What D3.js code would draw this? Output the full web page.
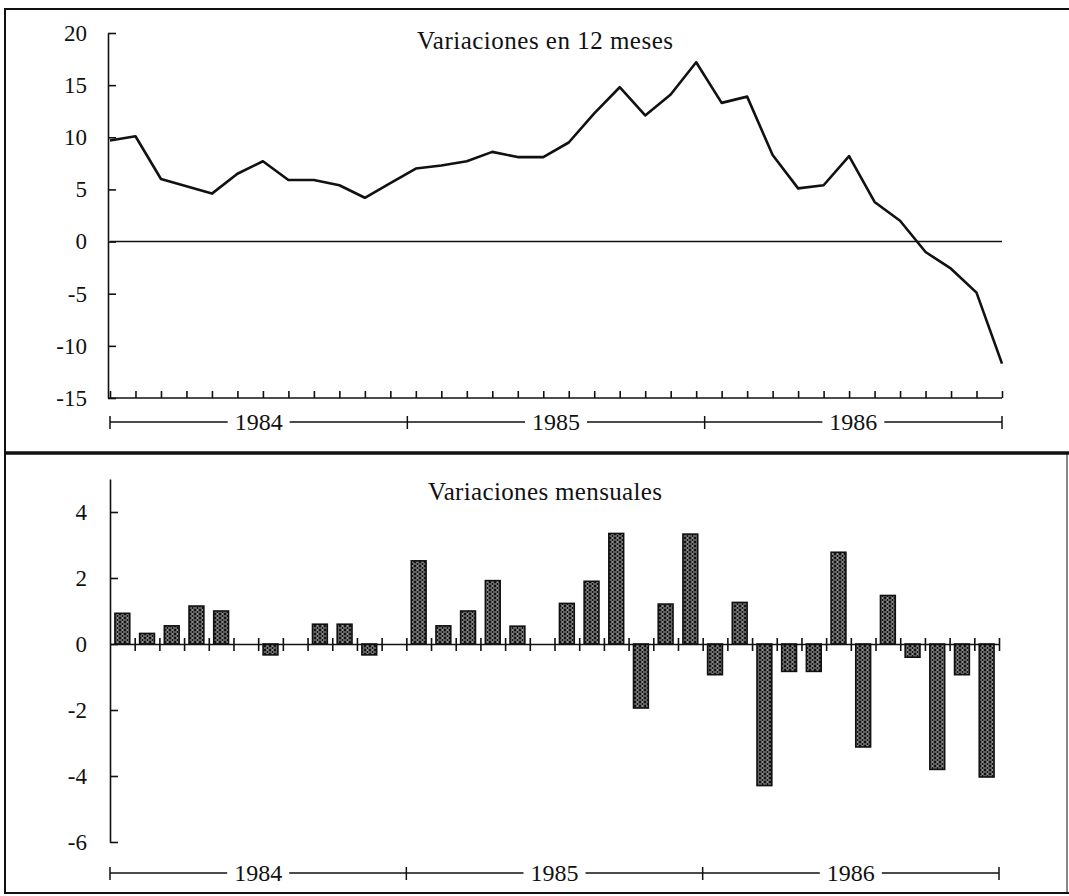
<!DOCTYPE html>
<html>
<head>
<meta charset="utf-8">
<script src="https://cdn.jsdelivr.net/npm/d3@7"></script>
<style>
  body { margin: 0; background: #fff; }
  svg text { font-family: "Liberation Serif", "Times New Roman", serif; fill: #111; }
  .axis path, .axis line { stroke: #111; stroke-width: 1.6; }
  .axis text { font-size: 23px; fill: #111; }
</style>
</head>
<body>
<div id="chart"></div>
<script>
// Data
var years = ["1984", "1985", "1986"];
var months = [];
years.forEach(function (y) {
    for (var m = 1; m <= 12; m++) months.push(y + "-" + m);
});

// 12-month variation (top line)
var var12 = [9.7, 10.1, 6.0, 5.3, 4.6, 6.5, 7.7, 5.9, 5.9, 5.4, 4.2, 5.6,
             7.0, 7.3, 7.7, 8.6, 8.1, 8.1, 9.5, 12.3, 14.8, 12.1, 14.1, 17.2,
             13.3, 13.9, 8.3, 5.1, 5.4, 8.2, 3.8, 2.0, -1.0, -2.6, -4.9, -11.7];

// monthly variation (bottom bars)
var varMensual = [0.93, 0.32, 0.55, 1.15, 1.0, 0, -0.33, 0, 0.6, 0.6, -0.33, 0,
                  2.52, 0.55, 1.0, 1.92, 0.54, 0, 1.23, 1.9, 3.35, -1.94, 1.21, 3.33,
                  -0.93, 1.26, -4.29, -0.83, -0.83, 2.78, -3.12, 1.47, -0.4, -3.8, -0.93, -4.03];

var topTicks = [-15, -10, -5, 0, 5, 10, 15, 20];
var bottomTicks = [-6, -4, -2, 0, 2, 4];
var topTitle = "Variaciones en 12 meses";
var bottomTitle = "Variaciones mensuales";

var svgWidth = 1069;
var svgHeight = 896;

var svg = d3.select("#chart")
    .append("svg")
    .attr("width", svgWidth)
    .attr("height", svgHeight);

// bar fill pattern (dark with light zigzag)
var defs = svg.append("defs");
var pat = defs.append("pattern")
    .attr("id", "hatch")
    .attr("patternUnits", "userSpaceOnUse")
    .attr("width", 5)
    .attr("height", 4);
pat.append("rect").attr("width", 5).attr("height", 4).attr("fill", "#111");
pat.append("path")
    .attr("d", "M0.5,0 L2.5,2 L0.5,4 M4.5,0 L2.5,2 L4.5,4")
    .attr("stroke", "#d8d8d8")
    .attr("stroke-width", 0.8)
    .attr("fill", "none");

// page frame
var frame = svg.append("g").attr("stroke", "#111").attr("fill", "none");
frame.append("line").attr("x1", 4).attr("x2", 1069).attr("y1", 9).attr("y2", 9).attr("stroke-width", 2);
frame.append("line").attr("x1", 5).attr("x2", 5).attr("y1", 9).attr("y2", 893).attr("stroke-width", 2);
frame.append("line").attr("x1", 4).attr("x2", 1069).attr("y1", 893).attr("y2", 893).attr("stroke-width", 2);
frame.append("line").attr("x1", 4).attr("x2", 1069).attr("y1", 453).attr("y2", 453).attr("stroke-width", 3.5);
frame.append("line").attr("x1", 1067).attr("x2", 1067).attr("y1", 453).attr("y2", 893).attr("stroke-width", 1);

// year brackets under an x range
function drawYears(y, x0, x1) {
    var yearScale = d3.scaleBand().domain(years).range([x0, x1]);
    var g = svg.append("g");
    g.append("line")
        .attr("x1", x0).attr("x2", x1)
        .attr("y1", y).attr("y2", y)
        .attr("stroke", "#111").attr("stroke-width", 1.5);
    var cuts = years.map(function (d) { return yearScale(d); }).concat([x1]);
    g.selectAll(".cut").data(cuts).enter()
        .append("line")
        .attr("x1", d => d).attr("x2", d => d)
        .attr("y1", y - 6).attr("y2", y + 7)
        .attr("stroke", "#111").attr("stroke-width", 1.5);
    var labels = g.selectAll(".yl").data(years).enter()
        .append("g")
        .attr("transform", d => `translate(${yearScale(d) + yearScale.bandwidth() / 2}, ${y})`);
    labels.append("rect")
        .attr("x", -31).attr("y", -10)
        .attr("width", 62).attr("height", 20)
        .attr("fill", "#fff");
    labels.append("text")
        .attr("text-anchor", "middle")
        .attr("dy", "0.35em")
        .style("font-size", "24px")
        .text(d => d);
}

// ---------- top chart: 12-month variation ----------
var yTop = d3.scaleLinear().domain([-15, 20]).range([398, 33]);
var xTop = d3.scalePoint().domain(months).range([110, 1002]);

svg.append("g")
    .attr("class", "axis")
    .attr("transform", "translate(108, 0)")
    .call(d3.axisLeft(yTop).tickValues(topTicks).tickSize(-8).tickSizeOuter(0)
        .tickPadding(21).tickFormat(d => String(d)));

svg.append("g")
    .attr("class", "axis")
    .attr("transform", "translate(0, 398)")
    .call(d3.axisBottom(xTop).tickSize(-7).tickSizeOuter(0).tickFormat(""))
    .select(".domain").attr("d", "M108,0H1002");

svg.append("line")
    .attr("x1", xTop(months[0])).attr("x2", xTop(months[months.length - 1]))
    .attr("y1", yTop(0)).attr("y2", yTop(0))
    .attr("stroke", "#111").attr("stroke-width", 1.6);

var line12 = d3.line()
    .x((d, i) => xTop(months[i]))
    .y(d => yTop(d));

svg.append("path")
    .datum(var12)
    .attr("d", line12)
    .attr("fill", "none")
    .attr("stroke", "#111")
    .attr("stroke-width", 2.6)
    .attr("stroke-linejoin", "round");

svg.append("text")
    .attr("x", 545).attr("y", 49)
    .attr("text-anchor", "middle")
    .attr("textLength", 256)
    .attr("lengthAdjust", "spacing")
    .style("font-size", "25px")
    .text(topTitle);

drawYears(422, 110, 1002);

// ---------- bottom chart: monthly variation ----------
var yBot = d3.scaleLinear().domain([-6, 5]).range([842, 479]);
var xBot = d3.scaleBand().domain(months).range([110, 999]);
var xIdx = d3.scaleLinear().domain([0, months.length]).range([110, 999]);

svg.append("g")
    .attr("class", "axis")
    .attr("transform", "translate(110, 0)")
    .call(d3.axisLeft(yBot).tickValues(bottomTicks).tickSize(-8).tickSizeOuter(0)
        .tickPadding(23).tickFormat(d => String(d)));

var bw = xBot.bandwidth();
svg.append("g").selectAll("rect")
    .data(varMensual.map((v, i) => ({ m: months[i], v: v })).filter(d => d.v !== 0))
    .enter()
    .append("rect")
    .attr("x", d => xBot(d.m) + bw * 0.2)
    .attr("width", bw * 0.6)
    .attr("y", d => yBot(Math.max(0, d.v)))
    .attr("height", d => Math.abs(yBot(d.v) - yBot(0)))
    .attr("fill", "url(#hatch)")
    .attr("stroke", "#111")
    .attr("stroke-width", 1.6);

var base = svg.append("g")
    .attr("class", "axis")
    .attr("transform", `translate(0, ${yBot(0)})`)
    .call(d3.axisBottom(xIdx).tickValues(d3.range(1, months.length + 1)).tickSize(7).tickSizeOuter(0).tickFormat(""));
base.selectAll(".tick line").attr("y1", -6);

svg.append("text")
    .attr("x", 545).attr("y", 500)
    .attr("text-anchor", "middle")
    .attr("textLength", 234)
    .attr("lengthAdjust", "spacing")
    .style("font-size", "25px")
    .text(bottomTitle);

drawYears(873, 110, 999);
</script>
</body>
</html>
